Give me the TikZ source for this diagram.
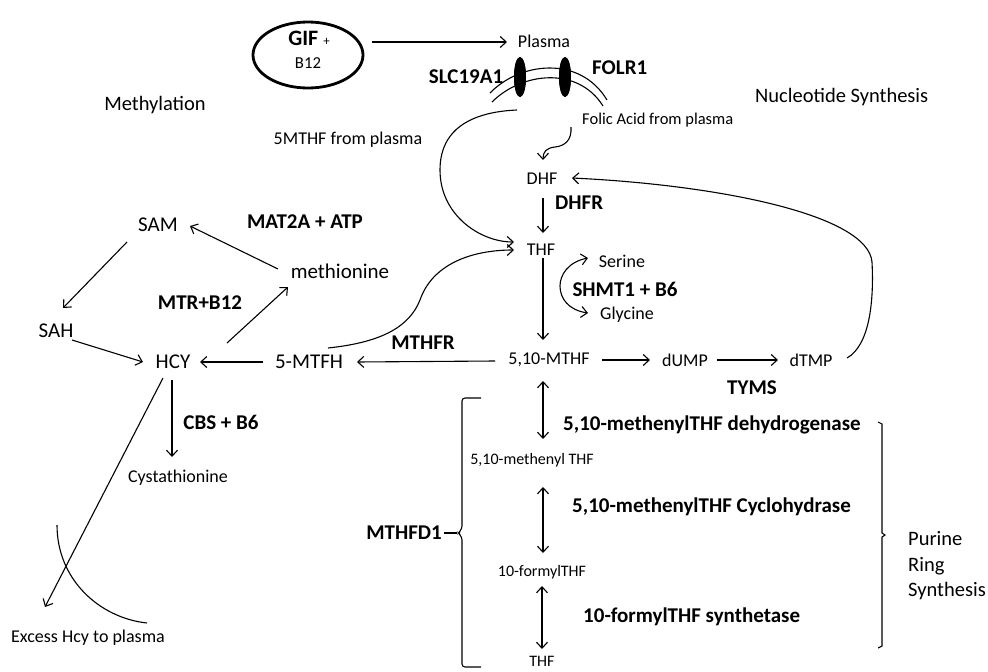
\documentclass[tikz,border=0pt]{standalone}
\usepackage{fontspec}
\setmainfont{Carlito}
\usetikzlibrary{arrows.meta,calc,shapes.geometric}
\begin{document}
\begin{tikzpicture}[x=1pt,y=-1pt,
  reg/.style={inner sep=0pt, font=\fontsize{18}{21}\selectfont},
  big/.style={inner sep=0pt, font=\fontsize{21}{25}\selectfont},
  bigr/.style={inner sep=0pt, font=\fontsize{20.5}{25.5}\selectfont},
  bld/.style={inner sep=0pt, font=\fontsize{21}{25}\selectfont\bfseries},
  sml/.style={inner sep=0pt, font=\fontsize{16}{19}\selectfont},
  conn/.style={-{Straight Barb[length=6pt,width=11pt]}, line width=1.1pt},
  dconn/.style={{Straight Barb[length=6pt,width=11pt]}-{Straight Barb[length=6pt,width=11pt]}, line width=1.1pt},
  line/.style={line width=1.1pt},
  transp/.style={fill=black, ellipse, minimum width=12pt, minimum height=40pt, inner sep=0pt}]
\fill[white] (0,0) rectangle (988,672);
\useasboundingbox (0,0) rectangle (988,672);

% ---- nodes ----
\node[draw, ellipse, line width=2.8pt, minimum width=110pt, minimum height=66pt, inner sep=0pt] (gif) at (308,55) {};
\node[inner sep=0pt, anchor=base] (giftxt) at (309,45) {{\fontsize{22}{24}\selectfont\bfseries GIF}\hspace{5pt}{\fontsize{13}{15}\selectfont +}};
\node[inner sep=0pt, anchor=base, font=\fontsize{16.7}{19}\selectfont] (b12) at (308,68) {B12};
\node[reg] (plasma) at (544,41) {Plasma};
\node[inner sep=0pt, anchor=west, font=\fontsize{16.5}{19}\selectfont] (fa) at (582,120) {Folic Acid from plasma};
\node[reg] (fivem) at (348,140) {5MTHF from plasma};
\node[bigr] (methyl) at (155,105) {Methylation};
\node[bigr, anchor=west] (nuc) at (755,97) {Nucleotide Synthesis};
\node[bld] (slc) at (466,77) {SLC19A1};
\node[bld, anchor=west] (folr) at (592,68) {FOLR1};
\node[transp] (slcT) at (520,77) {};
\node[transp] (folrT) at (565,77) {};

\node[reg] (dhf) at (542,179) {DHF};
\node[bld, anchor=west] (dhfr) at (555,203) {DHFR};
\node[reg] (thf) at (541,250) {THF};
\node[reg] (serine) at (622,261) {Serine};
\node[bld] (shmt) at (625,289) {SHMT1 + B6};
\node[reg] (glycine) at (627,315) {Glycine};
\node[reg] (mthf) at (549,360) {5,10-MTHF};
\node[reg] (dump) at (685,360) {dUMP};
\node[reg] (dtmp) at (811,360) {dTMP};
\node[bld] (tyms) at (752,388) {TYMS};

\node[big] (sam) at (158,225) {SAM};
\node[bld] (mat) at (305,222) {MAT2A + ATP};
\node[big] (meth) at (340,271) {methionine};
\node[bld] (mtr) at (200,303) {MTR+B12};
\node[big] (sah) at (56,331) {SAH};
\node[big] (hcy) at (173,362) {HCY};
\node[big] (mtfh) at (309,362) {5-MTFH};
\node[bld] (mthfr) at (423,343) {MTHFR};
\node[bld] (cbs) at (221,422) {CBS + B6};
\node[reg] (cysta) at (178,478) {Cystathionine};
\node[reg] (excess) at (88,638) {Excess Hcy to plasma};

\node[sml] (methenyl) at (532,460) {5,10-methenyl THF};
\node[sml] (formyl) at (542,572) {10-formylTHF};
\node[sml] (thfb) at (542,661) {THF};
\node[bld, anchor=west] (deh) at (563,425) {5,10-methenylTHF dehydrogenase};
\node[bld, anchor=west] (cyc) at (572,507) {5,10-methenylTHF Cyclohydrase};
\node[bld, anchor=west] (syn) at (583,617) {10-formylTHF synthetase};
\node[bld, anchor=east] (mthfd) at (442,533) {MTHFD1};
\node[inner sep=0pt, anchor=west, align=left, font=\fontsize{20.5}{25.5}\selectfont] (purine) at (908,566) {Purine\\Ring\\Synthesis};

% ---- membrane ----
\draw[line] (490,93) .. controls (520,62) and (580,55) .. (607,100);
\draw[line] (492,102) .. controls (522,72) and (578,66) .. (603,106);
\node[transp] at (slcT) {};
\node[transp] at (folrT) {};
\coordinate (mstart) at (517,110);

% ---- connectors ----
\draw[conn] ($(gif.center)+(64,-13)$) -- ($(plasma.center)+(-37,1)$);
\draw[conn] ($(fa.west)+(-11,7)$) .. controls ($(fa.west)+(-10,20)$) and ($(fa.west)+(-17,26)$) .. ($(fa.west)+(-27,27)$) .. controls ($(dhf.center)+(4,-31)$) and ($(dhf.center)+(1,-27)$) .. ($(dhf.center)+(1,-19)$);
\draw[conn] ($(dhf.center)+(1,19)$) -- ($(thf.center)+(2,-17)$);
\draw[conn] ($(thf.center)+(2,8)$) -- ($(mthf.center)+(-6,-20)$);
\draw[conn] ($(mthf.center)+(53,0)$) -- ($(dump.center)+(-35,0)$);
\draw[conn] ($(dump.center)+(32,0)$) -- ($(dtmp.center)+(-33,0)$);
\draw[conn] ($(dtmp.center)+(36,-2)$) .. controls (870,345) and (874,300) .. (872,262) .. controls (868,215) and (720,185) .. ($(dhf.center)+(30,-1)$);
\draw[dconn] ($(serine.center)+(-34,-3)$) .. controls (568,262) and (560,275) .. (560,286) .. controls (560,298) and (568,310) .. ($(glycine.center)+(-39,-2)$);
\draw[conn] ($(mthf.center)+(-54,1)$) -- ($(mtfh.center)+(48,0)$);
\draw[conn] ($(mtfh.center)+(-46,0)$) -- ($(hcy.center)+(27,0)$);
\draw[conn] ($(hcy.center)+(54,-19)$) -- ($(meth.center)+(-52,16)$);
\draw[conn] ($(meth.center)+(-62,-2)$) -- ($(sam.center)+(32,1)$);
\draw[conn] ($(sam.center)+(-31,17)$) -- ($(sah.center)+(7,-23)$);
\draw[conn] ($(sah.center)+(16,9)$) -- ($(hcy.center)+(-30,0)$);
\draw[conn] ($(hcy.center)+(-1,18)$) -- ($(cysta.center)+(-6,-21)$);
\draw[conn] ($(hcy.center)+(-10,16)$) -- ($(excess.center)+(-43,-31)$);
\draw[line] (57,525) .. controls (57,580) and (100,618) .. (147,623);
\draw[conn] (mstart) .. controls (470,112) and (440,130) .. (440,170) .. controls (440,215) and (480,242) .. ($(thf.center)+(-27,-8)$);
\draw[conn] ($(mtfh.center)+(19,-14)$) .. controls (385,342) and (410,325) .. (420,300) .. controls (432,265) and (470,250) .. ($(thf.center)+(-27,0)$);

\draw[dconn] ($(mthf.center)+(-6,21)$) -- ($(methenyl.center)+(11,-21)$);
\draw[dconn] ($(methenyl.center)+(11,27)$) -- ($(formyl.center)+(1,-19)$);
\draw[dconn] ($(formyl.center)+(0,14)$) -- ($(thfb.center)+(0,-12)$);

% ---- brackets ----
\draw[line, rounded corners=3pt] (481,398) -- (462,398) -- (462,529) -- (458,533) -- (462,537) -- (462,667) -- (481,667);
\coordinate (lbtip) at (457,533);
\draw[line] ($(mthfd.east)+(2,0)$) -- (lbtip);
\draw[line] (878,422) -- (882,424) -- (882,533) -- (885,535) -- (882,537) -- (882,646) -- (878,648);
\end{tikzpicture}
\end{document}
